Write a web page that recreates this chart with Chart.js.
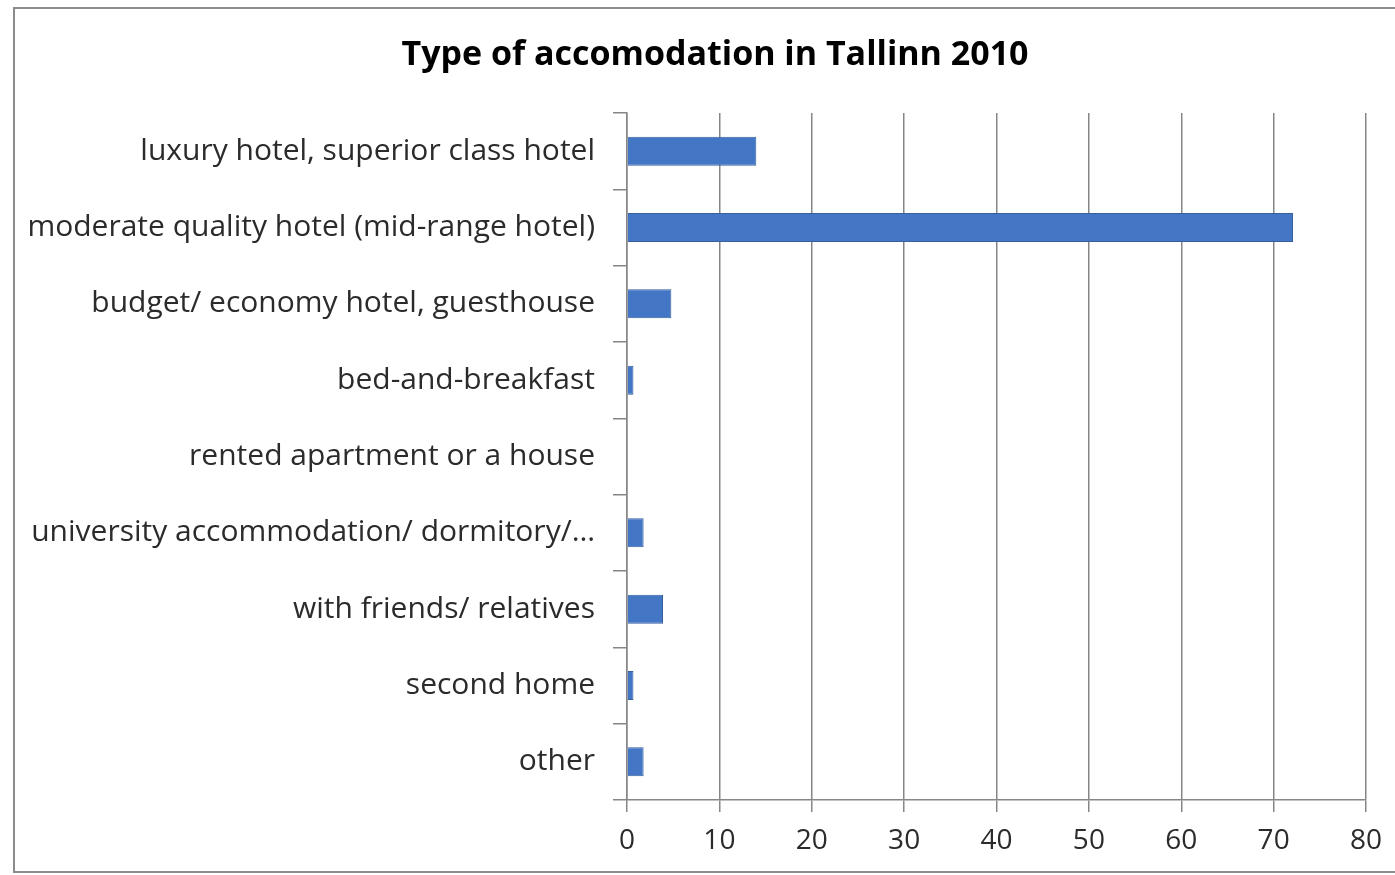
<!DOCTYPE html>
<html lang="en">
<head>
<meta charset="UTF-8">
<title>Type of accomodation in Tallinn 2010</title>
<script src="https://cdn.jsdelivr.net/npm/chart.js@4"></script>
<style>
  * { margin: 0; padding: 0; box-sizing: border-box; }
  body { background: #fff; width: 1395px; height: 875px; overflow: hidden; position: relative; }
  .frame { position: absolute; left: 13px; top: 7px; width: 1400px; height: 866px; border: 2px solid #8c8c8c; }
  .wrap { position: absolute; left: 0; top: 0; width: 1395px; height: 875px; }
  canvas { display: block; }
</style>
</head>
<body>
<div class="frame"></div>
<div class="wrap"><canvas id="chart" width="1395" height="875"></canvas></div>
<script>
const categories = [
  'luxury hotel, superior class hotel',
  'moderate quality hotel (mid-range hotel)',
  'budget/ economy hotel, guesthouse',
  'bed-and-breakfast',
  'rented apartment or a house',
  'university accommodation/ dormitory/\u2026',
  'with friends/ relatives',
  'second home',
  'other'
];
const shares = [14, 72.1, 4.8, 0.7, 0, 1.8, 3.9, 0.7, 1.8];
const xTicks = [0, 10, 20, 30, 40, 50, 60, 70, 80];
const titleText = 'Type of accomodation in Tallinn 2010';

const fontFamily = "'Open Sans', Lato, sans-serif";
const gridColor = '#868686';

// title is drawn by hand so it can sit off-centre like the original
const titlePlugin = {
  id: 'offsetTitle',
  afterDraw(chart) {
    const ctx = chart.ctx;
    ctx.save();
    ctx.font = 'bold 34px ' + fontFamily;
    ctx.fillStyle = '#000';
    ctx.textAlign = 'center';
    ctx.textBaseline = 'middle';
    ctx.fillText(titleText, 715, 55);
    ctx.restore();
  }
};

new Chart(document.getElementById('chart'), {
  type: 'bar',
  data: {
    labels: categories,
    datasets: [{
      data: shares,
      backgroundColor: '#4377c6',
      borderColor: '#365f9e',
      borderWidth: 1,
      barPercentage: 0.38,
      categoryPercentage: 1,
    }]
  },
  plugins: [titlePlugin],
  options: {
    indexAxis: 'y',
    responsive: false,
    animation: false,
    devicePixelRatio: 1,
    layout: { padding: { left: 0, right: 29, top: 113, bottom: 0 } },
    plugins: {
      legend: { display: false },
      tooltip: { enabled: false },
      title: { display: false }
    },
    scales: {
      x: {
        min: 0,
        max: 80,
        afterBuildTicks: s => { s.ticks = xTicks.map(v => ({ value: v })); },
        afterFit: s => { s.height = 75; },
        grid: { color: gridColor, lineWidth: 1.5, tickLength: 12, drawTicks: true },
        border: { color: gridColor, width: 1.5 },
        ticks: { color: '#2b2b2b', font: { family: fontFamily, size: 28 }, padding: 12, maxRotation: 0 },
      },
      y: {
        afterFit: s => { s.width = 627; },
        grid: { offset: true, drawOnChartArea: false, color: gridColor, lineWidth: 1.5, tickLength: 14 },
        border: { color: gridColor, width: 1.5 },
        ticks: { color: '#2b2b2b', font: { family: fontFamily, size: 30 }, padding: 18, autoSkip: false },
      }
    }
  }
});
</script>
</body>
</html>
